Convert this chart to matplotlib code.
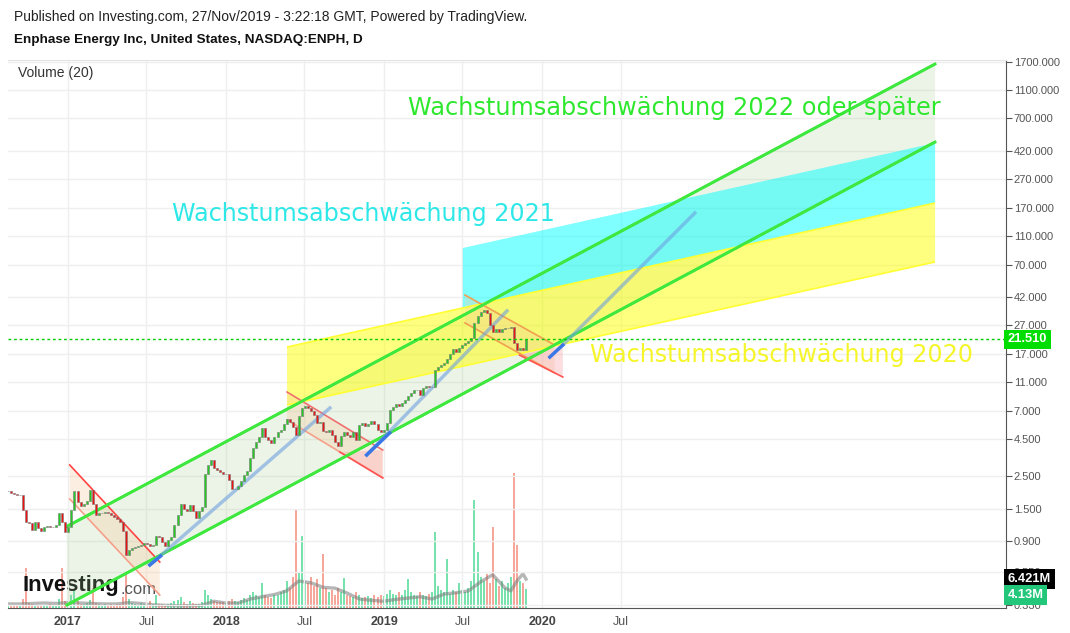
import matplotlib
matplotlib.use('Agg')
import matplotlib.pyplot as plt
import matplotlib.dates as mdates
import matplotlib.transforms as mtransforms
from matplotlib.ticker import NullLocator
import pandas as pd

# weekly closes (USD), first week = mid Aug 2016
closes = [
    1.97, 1.92, 1.90, 1.86, 1.86, 1.47, 1.22, 1.20, 1.07, 1.22,
    1.10, 1.05, 1.12, 1.14, 1.12, 1.13, 1.16, 1.40, 1.22, 1.03,
    1.12, 1.47, 1.97, 1.65, 1.55, 1.60, 1.70, 2.00, 1.60, 1.35,
    1.40, 1.40, 1.42, 1.40, 1.36, 1.32, 1.27, 1.22, 1.05, 0.72,
    0.78, 0.80, 0.82, 0.83, 0.85, 0.87, 0.86, 0.83, 0.85, 0.98,
    0.96, 0.88, 0.83, 0.92, 0.96, 1.16, 1.35, 1.62, 1.50, 1.45,
    1.58, 1.45, 1.30, 1.45, 1.53, 2.60, 3.00, 3.20, 2.85, 2.75,
    2.66, 2.60, 2.60, 2.35, 2.05, 2.05, 2.15, 2.30, 2.55, 2.70,
    3.30, 3.90, 4.30, 4.60, 5.30, 4.60, 4.40, 4.20, 4.60, 5.00,
    5.20, 5.70, 6.10, 5.90, 5.40, 4.80, 6.40, 7.30, 7.50, 7.30,
    7.00, 6.50, 5.80, 5.90, 5.10, 5.00, 5.20, 4.80, 4.30, 4.00,
    4.70, 5.00, 4.80, 4.60, 5.00, 4.40, 5.60, 5.80, 5.50, 5.70,
    6.00, 5.70, 5.20, 5.00, 5.20, 5.80, 7.10, 7.40, 7.80, 7.60,
    7.90, 8.30, 8.80, 9.20, 9.70, 9.70, 9.00, 10.0, 10.4, 10.1,
    10.2, 13.3, 13.9, 14.3, 14.8, 15.7, 17.0, 18.5, 17.6, 18.8,
    19.7, 20.2, 21.0, 22.0, 27.9, 31.0, 33.0, 34.0, 32.8, 27.0,
    24.0, 25.5, 24.3, 25.5, 25.8, 25.8, 26.0, 20.5, 18.2, 18.8,
    18.2, 21.51,
]

# volume in millions (daily scale), one per week
volumes = [
    0.6, 0.5, 0.7, 0.5, 0.6, 2.0, 9.0, 1.2, 0.8, 0.6,
    0.7, 0.5, 0.6, 0.6, 0.8, 0.6, 0.7, 2.0, 9.0, 1.5,
    1.0, 3.0, 4.0, 1.5, 1.0, 0.9, 1.2, 1.8, 4.5, 1.2,
    0.8, 0.7, 0.9, 0.7, 0.8, 0.7, 0.9, 1.0, 2.5, 8.0,
    2.0, 1.2, 0.9, 0.7, 1.2, 0.8, 0.9, 1.5, 0.8, 3.0,
    1.0, 0.9, 0.7, 0.9, 1.2, 1.5, 1.8, 2.5, 1.4, 1.0,
    1.5, 1.1, 0.9, 1.0, 1.3, 4.0, 3.0, 2.0, 1.6, 1.4,
    1.3, 1.4, 1.2, 1.6, 2.0, 1.5, 1.4, 1.7, 2.2, 1.8,
    3.0, 3.5, 2.8, 2.5, 5.5, 2.8, 2.4, 2.2, 2.8, 3.0,
    3.5, 4.0, 6.0, 4.5, 7.0, 22.0, 8.0, 16.0, 6.0, 5.5,
    7.0, 5.0, 6.5, 4.5, 12.0, 4.5, 3.5, 4.0, 3.0, 4.5,
    3.5, 6.6, 3.0, 2.6, 2.4, 3.5, 2.8, 2.2, 2.4, 2.6,
    2.2, 2.8, 2.4, 3.0, 2.6, 3.2, 4.0, 3.2, 3.0, 3.5,
    2.8, 4.0, 6.5, 3.5, 3.0, 2.6, 3.5, 3.0, 2.6, 3.2,
    3.5, 17.0, 5.0, 4.0, 3.5, 11.0, 3.2, 4.0, 3.5, 5.5,
    4.0, 3.5, 4.5, 6.0, 24.0, 12.5, 7.0, 6.0, 7.5, 5.5,
    18.0, 6.5, 5.0, 6.0, 4.5, 5.5, 7.0, 30.0, 14.0, 6.0,
    5.5, 4.13,
]

# Volume(20) moving average (millions) at some weeks
ma_weeks = [0, 4, 8, 12, 16, 20, 24, 28, 32, 36,
            40, 44, 48, 52, 56, 60, 64, 68, 72, 76,
            80, 84, 88, 92, 96, 100, 104, 108, 112, 116,
            120, 124, 128, 132, 136, 140, 144, 148, 152, 156,
            160, 164, 166, 168, 170, 171]
ma_values = [0.9, 0.9, 1.0, 1.1, 1.0, 1.2, 1.1, 1.0, 0.9, 0.9,
             1.2, 1.0, 0.7, 0.6, 0.5, 0.5, 0.6, 1.5, 1.1, 1.1,
             2.0, 2.5, 3.0, 3.8, 6.0, 5.6, 4.6, 4.4, 3.3, 2.0,
             1.7, 1.5, 1.9, 2.2, 2.5, 2.0, 3.1, 3.4, 3.8, 5.8,
             7.4, 4.5, 3.8, 6.0, 7.6, 6.42]

week_dates = pd.date_range('2016-08-15', periods=len(closes), freq='7D')

last_price = 21.51
vol_ma_label = '6.421M'
vol_last_label = '4.13M'

price_ticks = [1700, 1100, 700, 420, 270, 170, 110, 70, 42, 27, 17, 11,
               7, 4.5, 2.5, 1.5, 0.9, 0.55, 0.33]
x_tick_dates = ['2017-01-01', '2017-07-01', '2018-01-01', '2018-07-01',
                '2019-01-01', '2019-07-01', '2020-01-01', '2020-07-01']
x_tick_labels = ['2017', 'Jul', '2018', 'Jul', '2019', 'Jul', '2020', 'Jul']

# hand drawn objects on the chart, as (date, price) pairs
green_upper = [('2016-12-29', 1.13), ('2022-06-27', 1647)]
green_lower = [('2016-12-29', 0.328), ('2022-06-27', 482)]
yellow_upper = [('2018-05-22', 19.1), ('2022-06-27', 184.5)]
yellow_lower = [('2018-05-22', 7.66), ('2022-06-27', 72.9)]
cyan_upper = [('2019-07-02', 90.8), ('2022-06-27', 474.8)]
cyan_lower = [('2019-07-02', 35.4), ('2022-06-27', 184.5)]

down17_upper = [('2017-01-05', 2.98), ('2017-08-01', 0.646)]
down17_lower = [('2017-01-05', 1.743), ('2017-08-01', 0.384)]
down18_upper = [('2018-05-22', 9.40), ('2018-12-29', 3.77)]
down18_lower = [('2018-05-22', 6.05), ('2018-12-29', 2.43)]
down18_pink = [('2018-09-21', 3.65), ('2018-12-29', 3.77), ('2018-12-29', 2.43)]
down19_upper = [('2019-07-07', 43.3), ('2020-01-30', 19.7)]
down19_lower = [('2019-07-07', 27.9), ('2020-01-30', 12.7)]
down19_pink = [('2019-11-10', 16.8), ('2020-02-18', 19.7), ('2020-02-18', 11.9)]

blue_a = [('2017-07-09', 0.617), ('2018-08-29', 7.31)]
blue_a_start = [('2017-07-09', 0.617), ('2017-08-03', 0.71)]
blue_b = [('2018-11-22', 3.49), ('2019-10-12', 33.7)]
blue_b_start = [('2018-11-22', 3.49), ('2019-01-14', 4.93)]
blue_c = [('2020-02-18', 19.7), ('2020-12-19', 157.6)]
blue_c_start = [('2020-01-19', 16.3), ('2020-02-18', 19.7)]


def pts(seq):
    xs = [mdates.date2num(pd.Timestamp(d)) for d, _ in seq]
    ys = [p for _, p in seq]
    return xs, ys


def channel(ax, upper, lower, face, alpha, edge, lw):
    ux, uy = pts(upper)
    lx, ly = pts(lower)
    ax.fill(ux + lx[::-1], uy + ly[::-1], color=face, alpha=alpha, lw=0, zorder=2)
    if edge:
        ax.plot(ux, uy, color=edge, lw=lw, zorder=3, solid_capstyle='butt')
        ax.plot(lx, ly, color=edge, lw=lw, zorder=3, solid_capstyle='butt')


fig = plt.figure(figsize=(10.7, 6.33), dpi=100)
rect = [8 / 1070, 25 / 633, 998 / 1070, 548 / 633]
x0 = mdates.date2num(pd.Timestamp('2017-01-01')) - 138.6
x1 = mdates.date2num(pd.Timestamp('2017-01-01')) + 2166.8

# volume pane underneath
axv = fig.add_axes(rect)
axv.set_xlim(x0, x1)
axv.set_ylim(0, 548 / 4.5)
axv.axis('off')

opens = [closes[0]] + closes[:-1]
up = [c >= o for c, o in zip(closes, opens)]
vcol = ['#3dd68c' if u else '#f4806f' for u in up]
axv.bar(week_dates, volumes, width=4.6, color=vcol, alpha=0.7, lw=0)
axv.plot(week_dates[ma_weeks], ma_values, color='#7a7a7a', lw=2.4, alpha=0.55)

# Investing.com logo
axv.text(22 / 1070, 1 - 586 / 633, 'Investing', transform=fig.transFigure,
         fontsize=15.8, fontweight='bold', color='#111111', va='center',
         family='Liberation Sans')
axv.text(121 / 1070, 1 - 589 / 633, '.com', transform=fig.transFigure,
         fontsize=12, color='#555555', va='center', family='Liberation Sans')

# price pane on top
ax = fig.add_axes(rect)
ax.patch.set_alpha(0)
ax.set_yscale('log')
ax.set_xlim(x0, x1)
ax.set_ylim(0.3132, 1754)

channel(ax, green_upper, green_lower, '#9ccc8a', 0.2, '#3ee83e', 2)
channel(ax, yellow_upper, yellow_lower, '#ffff00', 0.5, '#ffff33', 1.2)
channel(ax, cyan_upper, cyan_lower, '#00ffff', 0.5, None, 0)
channel(ax, down17_upper, down17_lower, '#f7c89a', 0.3, None, 0)
channel(ax, down18_upper, down18_lower, '#f7c89a', 0.3, None, 0)
channel(ax, down19_upper, down19_lower, '#f7c89a', 0.3, None, 0)
for poly in (down18_pink, down19_pink):
    px, py = pts(poly)
    ax.fill(px, py, color='#f7a0a8', alpha=0.35, lw=0, zorder=2)

for seq, col, lw in ((down17_upper, '#ff4444', 1.2), (down17_lower, '#f6a08a', 1.2),
                     (down18_upper, '#f07070', 1.2), (down18_lower, '#f6a08a', 1.2),
                     (down19_upper, '#f0a050', 1.2), (down19_lower, '#f0a050', 1.2)):
    sx, sy = pts(seq)
    ax.plot(sx, sy, color=col, lw=lw, zorder=3)
for poly in (down18_pink, down19_pink):
    px, py = pts(poly)
    ax.plot([px[0], px[2]], [py[0], py[2]], color='#ff5555', lw=1.2, zorder=3)

# green channel lines drawn again on top of the other fills
for seq in (green_upper, green_lower):
    sx, sy = pts(seq)
    ax.plot(sx, sy, color='#3ee83e', lw=2, zorder=4)

for seq in (blue_a, blue_b, blue_c):
    sx, sy = pts(seq)
    ax.plot(sx, sy, color='#6fa0e0', lw=2.5, alpha=0.6, zorder=4)
for seq in (blue_a_start, blue_b_start, blue_c_start):
    sx, sy = pts(seq)
    ax.plot(sx, sy, color='#3b78e6', lw=2.5, zorder=4)

# candles
bottoms = [min(o, c) for o, c in zip(opens, closes)]
heights = [abs(c - o) for o, c in zip(opens, closes)]
ccol = ['#22cc22' if u else '#ee1111' for u in up]
ax.bar(week_dates, heights, bottom=bottoms, width=4.6, color=ccol,
       edgecolor='#777777', lw=0.4, zorder=5)

ax.axhline(last_price, color='#00cc00', lw=1, ls=(0, (2, 2)), zorder=6)

# axes styling
ax.yaxis.tick_right()
ax.set_yticks(price_ticks)
ax.set_yticklabels([f'{v:.3f}' for v in price_ticks])
ax.yaxis.set_minor_locator(NullLocator())
ax.tick_params(axis='y', length=4, color='#555555', labelcolor='#555555',
               labelsize=8, pad=1.5)
for lab in ax.get_yticklabels():
    lab.set_family('Liberation Sans')

ax.set_xticks([mdates.date2num(pd.Timestamp(d)) for d in x_tick_dates])
ax.set_xticklabels(x_tick_labels)
ax.tick_params(axis='x', length=0, pad=6, labelsize=9, labelcolor='#555555')
for lab in ax.get_xticklabels():
    lab.set_family('Liberation Sans')
    if lab.get_text() != 'Jul':
        lab.set_fontweight('bold')
        lab.set_color('#444444')

ax.grid(True, color='#efefef', lw=1)
ax.set_axisbelow(True)
ax.spines['left'].set_visible(False)
ax.spines['top'].set_color('#e4e4e4')
ax.spines['right'].set_color('#555555')
ax.spines['bottom'].set_color('#555555')

# value boxes on the right axis (drawn above the tick labels)
ytrans = mtransforms.blended_transform_factory(ax.transAxes, ax.transData)
vtrans = mtransforms.blended_transform_factory(ax.transAxes, axv.transData)
box_kw = dict(fontsize=9.3, fontweight='bold', color='white', va='center',
              ha='left', family='Liberation Sans', clip_on=False, zorder=10)
ax.text(1.0015, last_price, f'{last_price:.3f}', transform=ytrans,
        bbox=dict(boxstyle='square,pad=0.3', fc='#00dd00', ec='none'), **box_kw)
ax.text(1.0015, 6.421, vol_ma_label, transform=vtrans,
        bbox=dict(boxstyle='square,pad=0.3', fc='black', ec='none'), **box_kw)
ax.text(1.0015, 2.9, vol_last_label, transform=vtrans,
        bbox=dict(boxstyle='square,pad=0.3', fc='#22c77a', ec='none'), **box_kw)

# annotations
ax.text(0.4008, 0.9124, 'Wachstumsabschwächung 2022 oder später',
        transform=ax.transAxes, fontsize=17.25, color='#2ee82e', va='center', zorder=7)
ax.text(0.1643, 0.719, 'Wachstumsabschwächung 2021',
        transform=ax.transAxes, fontsize=17.2, color='#2ee8e8', va='center', zorder=7)
ax.text(0.5832, 0.4617, 'Wachstumsabschwächung 2020',
        transform=ax.transAxes, fontsize=17.2, color='#f5f52a', va='center', zorder=7)

fig.text(14 / 1070, 1 - 17 / 633,
         'Published on Investing.com, 27/Nov/2019 - 3:22:18 GMT, Powered by TradingView.',
         fontsize=10, color='#222222', va='center', family='Liberation Sans')
fig.text(14 / 1070, 1 - 40 / 633, 'Enphase Energy Inc, United States, NASDAQ:ENPH, D',
         fontsize=9.7, fontweight='bold', color='#111111', va='center',
         family='Liberation Sans')
fig.text(18 / 1070, 1 - 73 / 633, 'Volume (20)', fontsize=10, color='#333333',
         va='center', family='Liberation Sans')

fig.savefig('out.png', dpi=100, facecolor='white')
